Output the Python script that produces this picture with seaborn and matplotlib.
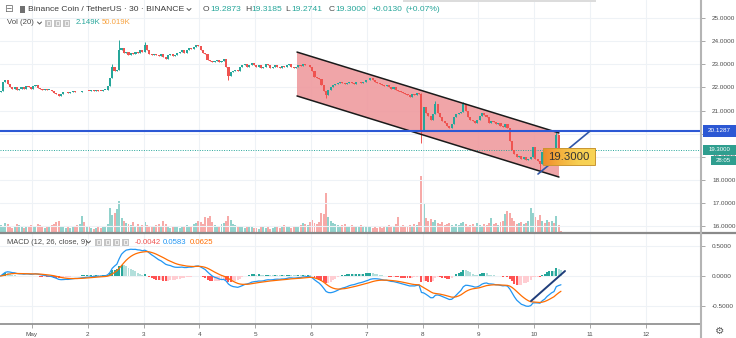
import numpy as np
import pandas as pd
import matplotlib
matplotlib.use("Agg")
import matplotlib.pyplot as plt
import seaborn as sns
from matplotlib.patches import Rectangle, Polygon
from matplotlib.lines import Line2D
from matplotlib.ticker import FormatStrFormatter
from matplotlib.colors import LinearSegmentedColormap

# ------------------------------------------------------------------ data
start_day = 10 / 24          # Apr 30 10:00, day axis where May 1 00:00 == 1.0
first_open = 21.80

# hourly closes (BNB/USDT)
closes_apr30 = [21.85, 22.25, 22.3, 22.15, 22.0, 21.95, 22.0, 21.9, 21.95, 22.0, 21.95, 22.05, 22.0, 21.95]
closes_may1 = [22.05, 22.1, 21.98, 21.92, 21.9, 21.95, 21.88, 21.9, 21.85, 21.75, 21.7, 21.62,
               21.72, 21.78, 21.8, 21.75, 21.82, 21.85, 21.8, 21.78, 21.82, 21.85, 21.83, 21.86]
closes_may2 = [21.84, 21.88, 21.85, 21.9, 21.86, 21.84, 21.88, 21.9, 22.05, 22.4, 22.9, 22.7,
               22.75, 23.6, 23.7, 23.5, 23.55, 23.4, 23.5, 23.45, 23.55, 23.5, 23.6, 23.55]
closes_may3 = [23.85, 23.6, 23.45, 23.4, 23.45, 23.4, 23.35, 23.45, 23.3, 23.25, 23.4, 23.45,
               23.35, 23.4, 23.5, 23.55, 23.6, 23.5, 23.6, 23.7, 23.65, 23.75, 23.85, 23.8]
closes_may4 = [23.6, 23.5, 23.45, 23.2, 23.15, 23.1, 23.15, 23.2, 23.1, 23.15, 23.25, 22.9,
               22.5, 22.65, 22.7, 22.75, 22.7, 22.9, 22.95, 23.0, 22.9, 22.95, 23.05, 22.95]
closes_may5 = [22.9, 22.95, 22.85, 22.9, 23.0, 22.95, 22.85, 22.9, 22.95, 22.9, 22.85, 22.92,
               22.88, 22.95, 23.0, 22.9, 22.85, 22.9, 22.95, 22.92, 23.0, 22.95, 22.98, 22.9]
closes_may6 = [22.7, 22.45, 22.4, 22.35, 22.1, 21.85, 21.65, 21.9, 22.0, 22.1, 22.15, 22.2,
               22.25, 22.2, 22.15, 22.2, 22.25, 22.2, 22.15, 22.22, 22.25, 22.2, 22.25, 22.3]
closes_may7 = [22.3, 22.4, 22.3, 22.25, 22.2, 22.15, 22.1, 22.05, 22.1, 22.0, 21.95, 22.0,
               21.9, 21.85, 21.8, 21.75, 21.7, 21.65, 21.6, 21.7, 21.65, 21.75, 21.7, 20.1]
closes_may8 = [21.15, 20.9, 20.75, 20.6, 20.85, 21.3, 20.9, 20.7, 20.55, 20.45, 20.35, 20.25,
               20.4, 20.7, 20.85, 20.9, 20.95, 21.3, 21.0, 20.7, 20.6, 20.55, 20.45, 20.6]
closes_may9 = [20.75, 20.9, 20.8, 20.7, 20.45, 20.55, 20.5, 20.4, 20.45, 20.35, 20.3, 20.4,
               20.25, 19.7, 19.3, 19.1, 19.0, 19.05, 18.9, 19.0, 18.85, 18.9, 19.0, 19.4]
closes_may10 = [18.9, 18.8, 18.7, 19.2, 19.05, 19.3, 19.2, 19.25, 19.15, 19.95, 19.35, 19.3]

# notable wicks: candle index -> (high, low); None keeps the body edge
wick_extremes = {48: (23.0, None), 51: (24.05, None), 62: (23.95, None), 98: (None, 22.3),
                 140: (None, 21.55), 181: (21.75, 19.6), 187: (21.4, None), 199: (21.35, None),
                 232: (None, 18.35), 239: (20.1, None)}

# hourly volume (thousands)
vol_apr30 = [80, 70, 100, 90, 60, 50, 70, 90, 80, 60, 50, 70, 60, 80]
vol_may1 = [70, 60, 90, 80, 60, 50, 60, 70, 80, 90, 110, 120, 70, 60, 50, 60, 50, 60, 70, 80, 90, 170, 110, 70]
vol_may2 = [60, 50, 40, 50, 60, 50, 60, 70, 90, 250, 180, 200, 240, 320, 150, 120, 100, 90, 80, 110, 70, 90, 60, 80]
vol_may3 = [110, 80, 70, 60, 70, 80, 90, 70, 120, 90, 60, 50, 60, 70, 60, 50, 60, 70, 80, 60, 70, 90, 100, 120]
vol_may4 = [110, 90, 160, 150, 170, 110, 80, 70, 60, 90, 100, 120, 170, 130, 90, 80, 60, 70, 60, 50, 60, 70, 60, 50]
vol_may5 = [50, 40, 60, 70, 50, 60, 40, 50, 60, 70, 50, 60, 80, 70, 60, 50, 60, 70, 60, 80, 100, 90, 80, 110]
vol_may6 = [130, 100, 90, 110, 200, 190, 400, 160, 120, 100, 90, 80, 70, 80, 90, 70, 60, 80, 70, 60, 70, 80, 60, 70]
vol_may7 = [60, 70, 50, 60, 50, 60, 50, 70, 60, 80, 70, 60, 90, 160, 70, 80, 60, 70, 80, 70, 90, 80, 110, 570]
vol_may8 = [290, 150, 120, 140, 110, 130, 100, 90, 110, 80, 90, 100, 80, 70, 90, 80, 100, 110, 90, 70, 80, 90, 70, 100]
vol_may9 = [80, 70, 90, 80, 100, 150, 90, 100, 80, 110, 120, 190, 220, 200, 150, 120, 90, 100, 110, 90, 100, 120, 250, 200]
vol_may10 = [160, 130, 180, 120, 100, 130, 110, 120, 100, 170, 80, 20]

day_ticks = [1, 2, 3, 4, 5, 6, 7, 8, 9, 10, 11, 12]
day_labels = ["May", "2", "3", "4", "5", "6", "7", "8", "9", "10", "11", "12"]
price_ticks = [16, 17, 18, 19, 20, 21, 22, 23, 24, 25]
macd_ticks = [-0.5, 0.0, 0.5]

# drawings
channel_x = [5.749, 10.444]
channel_upper = [23.53, 20.03]
channel_lower = [21.63, 18.12]
hline_level = 20.1287
last_price = 19.30
trend_x = [10.068, 11.0]
trend_y = [18.25, 20.11]
macd_trend_x = [9.943, 10.552]
macd_trend_y = [-0.417, 0.083]

# ------------------------------------------------------------------ prep
closes = np.array(closes_apr30 + closes_may1 + closes_may2 + closes_may3 + closes_may4 + closes_may5 +
                  closes_may6 + closes_may7 + closes_may8 + closes_may9 + closes_may10)
volume = np.array(vol_apr30 + vol_may1 + vol_may2 + vol_may3 + vol_may4 + vol_may5 +
                  vol_may6 + vol_may7 + vol_may8 + vol_may9 + vol_may10, dtype=float)
n = len(closes)
t = start_day + (np.arange(n) + 0.5) / 24
opens = np.r_[first_open, closes[:-1]]
highs = np.maximum(opens, closes)
lows = np.minimum(opens, closes)
for i, (h, l) in wick_extremes.items():
    if h is not None:
        highs[i] = h
    if l is not None:
        lows[i] = l
up = closes >= opens

df = pd.DataFrame({"t": t, "close": closes})
ema12 = df["close"].ewm(span=12, adjust=False).mean()
ema26 = df["close"].ewm(span=26, adjust=False).mean()
df["macd"] = ema12 - ema26
df["signal"] = df["macd"].ewm(span=9, adjust=False).mean()
df["hist"] = df["macd"] - df["signal"]
prev = df["hist"].shift(1).fillna(0)
hist_colors = np.where(df["hist"] >= 0,
                       np.where(df["hist"] >= prev, "#26a69a", "#b2dfdb"),
                       np.where(df["hist"] < prev, "#ff5252", "#ffcdd2"))

# ------------------------------------------------------------------ figure
sns.set_theme(style="white")
plt.rcParams["font.family"] = ["Liberation Sans", "DejaVu Sans"]

W, H = 736, 338
fig = plt.figure(figsize=(7.36, 3.38), dpi=100, facecolor="white")


def fx(px):
    return px / W


def fy(py):
    return 1 - py / H


ax = fig.add_axes([0, fy(233), fx(701), 233 / H])
axm = fig.add_axes([0, fy(324), fx(701), (324 - 233) / H], sharex=ax)
axv = ax.twinx()
axv.set_zorder(ax.get_zorder() - 1)
ax.patch.set_visible(False)
axv.patch.set_facecolor("white")

XMIN, XMAX = 0.42652, 12.9892
ax.set_xlim(XMIN, XMAX)
ax.set_ylim(15.697, 25.784)
axm.set_ylim(-0.80, 0.7167)
axv.set_ylim(0, 2330)

grid_c = "#eef2f6"
for a in (ax, axm):
    a.set_axisbelow(True)
    a.grid(True, color=grid_c, lw=0.8)
    for s in a.spines.values():
        s.set_visible(False)
for s in axv.spines.values():
    s.set_visible(False)
axv.set_yticks([])
axv.tick_params(right=False, labelright=False)

# volume
vol_colors = np.where(up, "#92d2cc", "#f7aaa8")
axv.bar(t, volume, width=0.85 / 24, color=vol_colors, linewidth=0)

# channel
poly = Polygon([(channel_x[0], channel_upper[0]), (channel_x[1], channel_upper[1]),
                (channel_x[1], channel_lower[1]), (channel_x[0], channel_lower[0])],
               closed=True, facecolor="#ee9599", alpha=0.85, edgecolor="none", zorder=1)
ax.add_patch(poly)
ax.plot(channel_x, channel_upper, color="#1a1a1a", lw=1.1, zorder=4)
ax.plot(channel_x, channel_lower, color="#1a1a1a", lw=1.1, zorder=4)

# candles
ccol = np.where(up, "#26a69a", "#ef5350")
ax.vlines(t, lows, highs, colors=ccol, lw=0.7, zorder=3)
ax.bar(t, np.maximum(np.abs(closes - opens), 0.035), bottom=np.minimum(opens, closes),
       width=0.9 / 24, color=ccol, linewidth=0, zorder=3)

# horizontal / trend lines
ax.axhline(hline_level, color="#2c58d4", lw=1.5, zorder=5)
ax.axhline(last_price, color="#26a69a", lw=0.7, ls=(0, (1, 1.5)), zorder=2)
ax.plot(trend_x, trend_y, color="#2f56a8", lw=1.2, zorder=5)


# orange price label
def dx(px):
    return 1 + (px - 32) / 55.8


def dp(py):
    return 16 + (226 - py) / 23.1


cmap = LinearSegmentedColormap.from_list("ob", ["#ef8a2c", "#f4b23e", "#f7cf52", "#f8d456"])
ax.imshow(np.linspace(0, 1, 64)[None, :], extent=[dx(543), dx(595), dp(165), dp(148)],
          cmap=cmap, aspect="auto", zorder=6, interpolation="bilinear")
ax.add_patch(Rectangle((dx(543), dp(165)), dx(595) - dx(543), dp(148) - dp(165),
                       fill=False, edgecolor="#c99632", lw=0.7, zorder=7))
ax.text((dx(543) + dx(595)) / 2, (dp(165) + dp(148)) / 2 - 0.02, "19.3000", ha="center", va="center",
        fontsize=8.2, color="#333333", zorder=8)
ax.set_xlim(XMIN, XMAX)
ax.set_ylim(15.697, 25.784)

# MACD
axm.bar(df["t"], df["hist"], width=0.85 / 24, color=hist_colors, linewidth=0, zorder=2)
sns.lineplot(data=df, x="t", y="macd", ax=axm, color="#2196f3", lw=0.9, zorder=3)
sns.lineplot(data=df, x="t", y="signal", ax=axm, color="#ff6d00", lw=0.9, zorder=3)
axm.plot(macd_trend_x, macd_trend_y, color="#1f3d7a", lw=1.4, zorder=4)
axm.set_xlabel("")
axm.set_ylabel("")
ax.set_ylabel("")
axv.set_ylabel("")

# ticks
ax.set_xticks(day_ticks)
axm.set_xticklabels(day_labels)
ax.tick_params(axis="x", bottom=False, labelbottom=False)
axm.tick_params(axis="x", bottom=True, length=3, width=0.6, color="#9a9a9a", labelsize=4.6,
                labelcolor="#4d4d4d", pad=2.5)
axm.set_xlim(XMIN, XMAX)

for a, ticks in ((ax, price_ticks), (axm, macd_ticks)):
    a.yaxis.tick_right()
    a.set_yticks(ticks)
    a.yaxis.set_major_formatter(FormatStrFormatter("%.4f"))
    a.tick_params(axis="y", left=False, right=True, labelleft=False, labelright=True, length=3,
                  width=0.6, color="#9a9a9a", labelsize=4.6, labelcolor="#4d4d4d", pad=5)

# frame lines
fig.add_artist(Line2D([0, 1], [fy(233), fy(233)], transform=fig.transFigure, color="#8a8a8a", lw=1.6))
fig.add_artist(Line2D([0, fx(701)], [fy(324), fy(324)], transform=fig.transFigure, color="#8a8a8a", lw=1.2))
fig.add_artist(Line2D([fx(701), fx(701)], [0, 1], transform=fig.transFigure, color="#b4b4b4", lw=1.5))


def frect(x, y, w, h, **kw):
    fig.add_artist(Rectangle((fx(x), fy(y + h)), w / W, h / H, transform=fig.transFigure, **kw))


def ftext(x, y, s, **kw):
    kw.setdefault("va", "center")
    kw.setdefault("ha", "left")
    fig.text(fx(x), fy(y), s, **kw)


def chevron(x, y, c="#555555"):
    fig.add_artist(Line2D([fx(x), fx(x + 2), fx(x + 4)], [fy(y - 1), fy(y + 1), fy(y - 1)],
                          transform=fig.transFigure, color=c, lw=0.7))


def icons(x0, y0, k):
    for j in range(k):
        x = x0 + j * 9
        frect(x, y0, 7, 7, facecolor="#c4c4c4", edgecolor="none")
        frect(x + 1.6, y0 + 1.6, 3.8, 3.8, facecolor="none", edgecolor="white", lw=0.5)


# price-axis labels
frect(703, 124.6, 33, 12, facecolor="#2c58d4", edgecolor="none")
ftext(719.5, 130.6, "20.1287", ha="center", fontsize=4.6, color="white")
frect(703, 144.6, 33, 10.5, facecolor="#2f9e8f", edgecolor="none")
ftext(719.5, 149.6, "19.3000", ha="center", fontsize=4.3, color="white")
frect(711, 156.2, 25, 9, facecolor="#2f9e8f", edgecolor="none")
ftext(723.5, 161.0, "28:05", ha="center", fontsize=4.3, color="white")

# top popup edge
frect(403, 0, 193, 1.8, facecolor="#dcdcdc", edgecolor="none")

# header line 1
fs1 = 6.1
ftext(4.5, 9.5, "⊟", fontsize=7.5, color="#6e6e6e", family=["DejaVu Sans"])
frect(20, 5.5, 5, 7, facecolor="#707070", edgecolor="none")
ftext(28, 9.5, "Binance Coin / TetherUS · 30 · BINANCE", fontsize=fs1, color="#3a3a3a")
chevron(187, 9.5)
teal = "#26a69a"
for x, s, c in [(203, "O", "#4a4a4a"), (210.5, "19.2873", teal), (245, "H", "#4a4a4a"),
                (251.8, "19.3185", teal), (285.5, "L", "#4a4a4a"), (291.2, "19.2741", teal),
                (328.5, "C", "#4a4a4a"), (335.5, "19.3000", teal), (372, "+0.0130", teal),
                (405, "(+0.07%)", teal)]:
    ftext(x, 9.5, s, fontsize=fs1, color=c)

# header line 2
ftext(7, 23, "Vol (20)", fontsize=5.6, color="#4a4a4a")
chevron(37.5, 23)
icons(45, 19.5, 3)
ftext(76, 23, "2.149K", fontsize=5.6, color=teal)
ftext(102, 23, "50.019K", fontsize=5.6, color="#f7a23e")

# MACD header
ftext(7, 242, "MACD (12, 26, close, 9)", fontsize=5.4, color="#4a4a4a")
chevron(86.5, 242)
icons(95, 238.5, 4)
ftext(135, 242, "-0.0042", fontsize=5.6, color="#ef5350")
ftext(163, 242, "0.0583", fontsize=5.6, color="#2196f3")
ftext(190, 242, "0.0625", fontsize=5.6, color="#ff6d00")

# gear
ftext(719.5, 331, "⚙", ha="center", fontsize=7.5, color="#5a5a5a", family=["DejaVu Sans"])

fig.savefig("out.png", dpi=100, facecolor="white")
